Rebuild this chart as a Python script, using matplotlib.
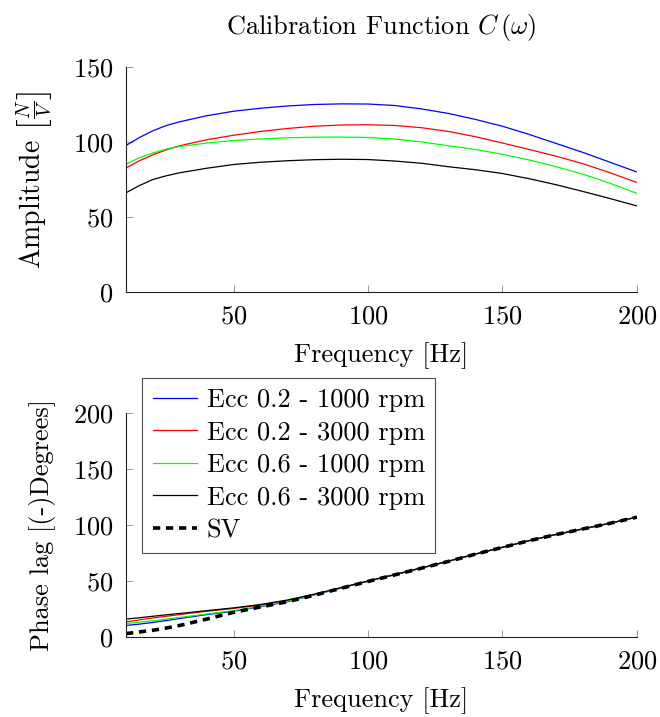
import matplotlib
matplotlib.use("Agg")
import matplotlib.pyplot as plt

plt.rcParams["font.family"] = "serif"
plt.rcParams["font.serif"] = ["cmr10"]
plt.rcParams["mathtext.fontset"] = "cm"
plt.rcParams["axes.formatter.use_mathtext"] = True

# Frequency grid [Hz]
freq = [10, 15, 20, 25, 30, 40, 50, 60, 70, 80, 90, 100,
        110, 120, 130, 140, 150, 160, 170, 180, 190, 200]

# Amplitude of the calibration function [N/V]
amp_e02_1000 = [97.7, 103, 107.5, 111, 113.5, 117.5, 120.5, 122.5, 124, 125, 125.4, 125.3,
                124.3, 122, 119, 115, 110.5, 105, 99, 93, 86.5, 80]
amp_e02_3000 = [82.7, 87.5, 91.5, 94.8, 97.5, 101.5, 104.5, 107, 109, 110.5, 111.3, 111.5,
                111, 109.5, 107, 103.5, 99.3, 95, 90.5, 85.5, 79.5, 73]
amp_e06_1000 = [85.2, 89.5, 92.7, 95.3, 97, 99.3, 101, 102, 102.8, 103.2, 103.3, 103,
                102, 100, 97.5, 95, 91.8, 88, 83.5, 78.5, 72.5, 65.7]
amp_e06_3000 = [66.2, 71, 75, 77.5, 79.5, 82.5, 85, 86.5, 87.5, 88.2, 88.5, 88.3,
                87.3, 85.8, 83.5, 81.5, 79, 75.5, 71.5, 67, 62.3, 57.4]

# Phase lag [deg]
ph_e02_1000 = [10.3, 11.5, 13, 14.7, 16.5, 20, 23, 27, 31.5, 37.5, 43.8, 49.8,
               55.6, 61.6, 67.6, 74, 80, 86, 91.5, 96.5, 101.5, 107]
ph_e02_3000 = [13.5, 15.3, 17, 18.5, 20, 23, 25.5, 28.5, 32.5, 38, 44, 49.9,
               55.7, 61.7, 67.7, 74.1, 80.1, 86.1, 91.6, 96.6, 101.6, 107.1]
ph_e06_1000 = [12, 13.2, 14.5, 16, 17.5, 20.5, 23.5, 27.5, 32, 37.7, 43.9, 49.9,
               55.7, 61.7, 67.7, 74.1, 80.1, 86.1, 91.6, 96.6, 101.6, 107.1]
ph_e06_3000 = [16, 17.2, 18.5, 19.8, 21, 23.5, 26, 29, 33, 38.2, 44, 50,
               55.8, 61.8, 67.8, 74.1, 80.1, 86.1, 91.6, 96.6, 101.6, 107.1]
ph_sv = [3, 4.5, 6, 8, 10.3, 16, 22, 26.8, 31.5, 37.3, 43.5, 49.6,
         55.5, 61.5, 67.5, 74, 80, 86, 91.5, 96.5, 101.5, 107]

labels = ["Ecc 0.2 - 1000 rpm", "Ecc 0.2 - 3000 rpm",
          "Ecc 0.6 - 1000 rpm", "Ecc 0.6 - 3000 rpm", "SV"]
colors = ["#0000ff", "#ff0000", "#00ff00", "#000000"]

FS = 19

fig = plt.figure(figsize=(6.6, 7.17), dpi=100)
ax1 = fig.add_axes([0.191, 0.5927, 0.774, 0.3139])
ax2 = fig.add_axes([0.191, 0.1116, 0.774, 0.3124])


def style(ax, ymax, yticks):
    ax.set_xlim(10, 200)
    ax.set_ylim(0, ymax)
    ax.set_xticks([50, 100, 150, 200])
    ax.set_yticks(yticks)
    for s in ("top", "right"):
        ax.spines[s].set_visible(False)
    for s in ("left", "bottom"):
        ax.spines[s].set_linewidth(0.8)
        ax.spines[s].set_color("#222222")
    ax.tick_params(direction="in", length=5, width=0.6, color="#888888",
                   labelsize=FS)
    ax.tick_params(axis="y", pad=9)
    ax.tick_params(axis="x", pad=9)


amps = [amp_e02_1000, amp_e02_3000, amp_e06_1000, amp_e06_3000]
for y, c, lab in zip(amps, colors, labels):
    ax1.plot(freq, y, color=c, lw=0.9, label=lab)
style(ax1, 150, [0, 50, 100, 150])
ax1.set_xlabel("Frequency [Hz]", fontsize=FS, labelpad=10)
ax1.set_ylabel(r"Amplitude $\left[\frac{N}{V}\right]$", fontsize=FS + 1, labelpad=12)
ax1.set_title(r"Calibration Function $C\,(\omega)$", fontsize=FS, pad=24)

phases = [ph_e02_1000, ph_e02_3000, ph_e06_1000, ph_e06_3000]
handles = []
for y, c, lab in zip(phases, colors, labels):
    h, = ax2.plot(freq, y, color=c, lw=0.9, label=lab)
    handles.append(h)
h, = ax2.plot(freq, ph_sv, color="black", lw=2.6, ls=(0, (2.0, 1.6)), label=labels[4])
handles.append(h)
style(ax2, 200, [0, 50, 100, 150, 200])
ax2.set_xlabel("Frequency [Hz]", fontsize=FS, labelpad=10)
ax2.set_ylabel("Phase lag [(-)Degrees]", fontsize=FS, labelpad=12)

leg = fig.legend(handles=handles, loc="upper left",
                 bbox_to_anchor=(142 / 660, 1 - 378 / 717),
                 fontsize=FS, frameon=True, fancybox=False,
                 handlelength=1.7, handletextpad=0.35, labelspacing=0.33,
                 borderpad=0.4, borderaxespad=0.0)
leg.get_frame().set_edgecolor("#222222")
leg.get_frame().set_linewidth(0.8)

fig.savefig("out.png", dpi=100)
